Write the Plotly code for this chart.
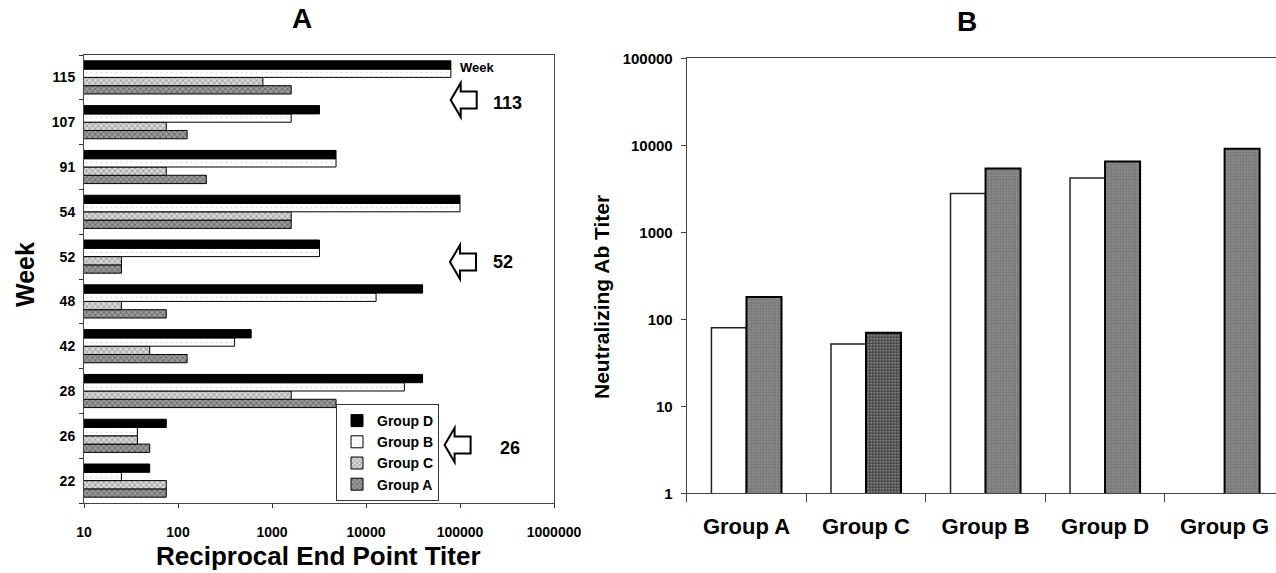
import plotly.graph_objects as go

# ---- Panel A: reciprocal end point titer by week ----
weeks = ["22", "26", "28", "42", "48", "52", "54", "91", "107", "115"]
group_d = [50, 75, 40000, 600, 40000, 3200, 100000, 4800, 3200, 80000]
group_b = [25, 37, 25600, 400, 12800, 3200, 100000, 4800, 1600, 80000]
group_c = [75, 37, 1600, 50, 25, 25, 1600, 75, 75, 800]
group_a = [75, 50, 4800, 125, 75, 25, 1600, 200, 125, 1600]
titer_ticks = [10, 100, 1000, 10000, 100000, 1000000]

# boost weeks marked with arrows
boost_weeks = ["113", "52", "26"]

# ---- Panel B: neutralizing antibody titer ----
groups = ["Group A", "Group C", "Group B", "Group D", "Group G"]
neut_white = [80, 52, 2800, 4200, None]
neut_gray = [180, 70, 5400, 6500, 9100]
neut_ticks = [1, 10, 100, 1000, 10000, 100000]

W, H = 1276, 573
FONT = "Liberation Sans, Arial, sans-serif"


def px_x(v):
    return v / W


def px_y(v):
    return 1 - v / H


fig = go.Figure()

# bars are stacked bottom-to-top within a week: A, C, B, D
series_a = [
    ("Group A", group_a, dict(color="#8a8a8a", pattern=dict(shape="x", fgcolor="#222", bgcolor="#9a9a9a", size=4, solidity=0.35))),
    ("Group C", group_c, dict(color="#c8c8c8", pattern=dict(shape="x", fgcolor="#333", bgcolor="#d8d8d8", size=4, solidity=0.3))),
    ("Group B", group_b, dict(color="white", pattern=dict(shape=".", fgcolor="#bbb", bgcolor="white", size=5, solidity=0.15))),
    ("Group D", group_d, dict(color="black")),
]
for name, vals, mk in series_a:
    mk = dict(mk)
    mk["line"] = dict(color="black", width=1)
    fig.add_trace(go.Bar(
        x=vals, y=weeks, name=name, orientation="h", marker=mk,
        xaxis="x", yaxis="y", showlegend=True,
    ))

# panel B bars: white (left) and textured gray (right)
fig.add_trace(go.Bar(
    x=groups, y=neut_white, name="white", showlegend=False,
    offset=-0.293, width=0.293,
    marker=dict(color="white", line=dict(color="#222", width=1.5)),
    xaxis="x2", yaxis="y2",
))
gray_bg = ["#8e8e8e", "#3a3a3a", "#8e8e8e", "#8e8e8e", "#8e8e8e"]
fig.add_trace(go.Bar(
    x=groups, y=neut_gray, name="gray", showlegend=False,
    offset=0, width=0.293,
    marker=dict(color=gray_bg,
                pattern=dict(shape=".", fgcolor="#111", bgcolor=gray_bg, size=3, solidity=0.4),
                line=dict(color="black", width=2)),
    xaxis="x2", yaxis="y2",
))

tick_font = dict(family=FONT, size=14, color="black", weight="bold")

fig.update_layout(
    width=W, height=H,
    margin=dict(l=0, r=0, t=0, b=0),
    paper_bgcolor="white", plot_bgcolor="white",
    barmode="group", bargap=0.26, bargroupgap=0,
    font=dict(family=FONT, color="black"),
    xaxis=dict(
        domain=[px_x(84), px_x(554)], anchor="y", type="log", range=[1, 6],
        tickvals=titer_ticks, ticktext=[str(v) for v in titer_ticks],
        tickfont=tick_font, ticks="outside", ticklen=4, tickcolor="#333",
        showline=True, linecolor="#444", linewidth=1, mirror=True,
        showgrid=False, zeroline=False, automargin=False, ticklabelstandoff=12,
    ),
    yaxis=dict(
        domain=[px_y(503), px_y(55)], anchor="x", type="category",
        categoryorder="array", categoryarray=weeks, range=[-0.5, 9.5],
        tickfont=tick_font, ticks="outside", ticklen=4, tickcolor="#333",
        tickson="boundaries",
        showline=True, linecolor="#444", linewidth=1, mirror=True,
        showgrid=False, zeroline=False, automargin=False, ticklabelstandoff=5,
    ),
    xaxis2=dict(
        domain=[px_x(686.7), 1.0], anchor="y2", type="category",
        categoryorder="array", categoryarray=groups, range=[-0.5, 4.43],
        tickfont=dict(family=FONT, size=22, color="black", weight="bold"),
        ticks="outside", ticklen=8, tickcolor="#444", tickson="boundaries",
        showline=True, linecolor="#444", linewidth=1, mirror=True,
        showgrid=False, zeroline=False, automargin=False, ticklabelstandoff=13,
    ),
    yaxis2=dict(
        domain=[px_y(493.3), px_y(58.3)], anchor="x2", type="log", range=[0, 5],
        tickvals=neut_ticks, ticktext=[str(v) for v in neut_ticks],
        tickfont=dict(family=FONT, size=15, color="black", weight="bold"),
        ticks="outside", ticklen=5, tickcolor="#444",
        showline=True, linecolor="#444", linewidth=1, mirror=False,
        showgrid=False, zeroline=False, automargin=False, ticklabelstandoff=5,
    ),
    legend=dict(
        x=px_x(336), y=px_y(404), xanchor="left", yanchor="top",
        traceorder="reversed", bgcolor="white", bordercolor="#333", borderwidth=1,
        font=dict(family=FONT, size=14, color="black", weight="bold"),
        itemwidth=30, tracegroupgap=0,
    ),
)

annotations = [
    dict(text="A", x=px_x(302), y=px_y(18), font=dict(size=28)),
    dict(text="B", x=px_x(967), y=px_y(22), font=dict(size=28)),
    dict(text="Week", x=px_x(25), y=px_y(275), font=dict(size=25), textangle=-90),
    dict(text="Reciprocal End Point Titer", x=px_x(318), y=px_y(556), font=dict(size=26)),
    dict(text="Neutralizing Ab Titer", x=px_x(601), y=px_y(297), font=dict(size=21), textangle=-90),
    dict(text="Week", x=px_x(477), y=px_y(67), font=dict(size=13)),
]
arrow_rows = [(boost_weeks[0], 450.7, 100, 507, 103), (boost_weeks[1], 450, 262, 503, 262), (boost_weeks[2], 444.6, 445, 510, 448)]
for label, _, _, tx, ty in arrow_rows:
    annotations.append(dict(text=label, x=px_x(tx), y=px_y(ty), font=dict(size=18)))

for a in annotations:
    a.update(xref="paper", yref="paper", showarrow=False, xanchor="center", yanchor="middle")
    a["font"].update(family=FONT, color="black", weight="bold")
fig.update_layout(annotations=annotations)

# left-pointing block arrows beside the boost weeks
shapes = []
for _, tip, cy, _, _ in arrow_rows:
    head_back = tip + 10
    tail = tip + 26
    pts = [(tip, cy), (head_back, cy - 17), (head_back, cy - 8.5), (tail, cy - 8.5),
           (tail, cy + 8.5), (head_back, cy + 8.5), (head_back, cy + 17)]
    path = "M " + " L ".join(f"{px_x(x):.5f},{px_y(y):.5f}" for x, y in pts) + " Z"
    shapes.append(dict(type="path", path=path, xref="paper", yref="paper",
                       line=dict(color="black", width=2), fillcolor="white"))
fig.update_layout(shapes=shapes)

fig.write_html("out.html")
